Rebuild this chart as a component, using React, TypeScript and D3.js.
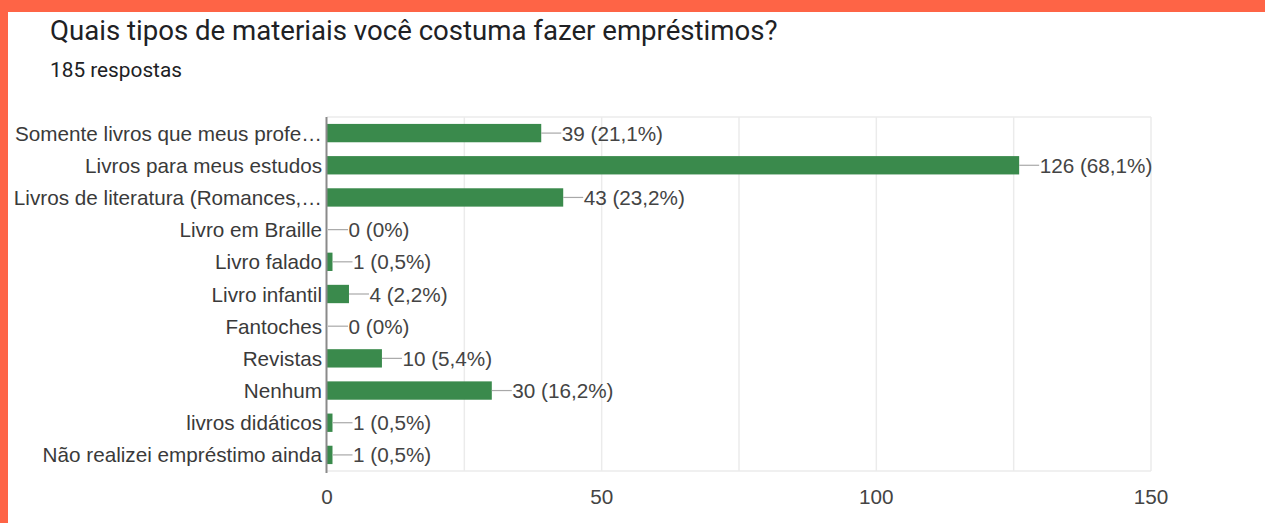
import * as d3 from "d3";

const categories = [
  "Somente livros que meus profe…",
  "Livros para meus estudos",
  "Livros de literatura (Romances,…",
  "Livro em Braille",
  "Livro falado",
  "Livro infantil",
  "Fantoches",
  "Revistas",
  "Nenhum",
  "livros didáticos",
  "Não realizei empréstimo ainda",
];
const counts = [39, 126, 43, 0, 1, 4, 0, 10, 30, 1, 1];
const percents = ["21,1%", "68,1%", "23,2%", "0%", "0,5%", "2,2%", "0%", "5,4%", "16,2%", "0,5%", "0,5%"];
const tickValues = [0, 50, 100, 150];
const gridValues = [25, 50, 75, 100, 125, 150];

const W = 1265;
const H = 523;
const plot = { left: 327, right: 1151, top: 117, bottom: 471 };
const labelFont = "'Liberation Sans', Arial, sans-serif";

function App() {
  const x = d3.scaleLinear().domain([0, 150]).range([plot.left, plot.right]);
  const y = d3.scaleBand().domain(categories).range([plot.top, plot.bottom]).paddingInner(0.43).paddingOuter(0.215);
  const bh = y.bandwidth();

  return (
    <svg width={W} height={H} style={{ position: "absolute", left: 0, top: 0, background: "#ffffff" }}>
      <rect x={0} y={0} width={W} height={12} fill="#fe6446" />
      <rect x={0} y={0} width={8} height={H} fill="#fe6446" />

      <text x={50} y={39.5} fontFamily="Roboto, sans-serif" fontSize={27.6} fill="#202124">
        Quais tipos de materiais você costuma fazer empréstimos?
      </text>
      <text x={50} y={76.5} fontFamily="Roboto, sans-serif" fontSize={20.8} fill="#202124">
        185 respostas
      </text>

      {/* grid + frame */}
      {gridValues.map((g) => (
        <line key={g} x1={x(g)} x2={x(g)} y1={plot.top} y2={plot.bottom} stroke="#ebebeb" strokeWidth={1.5} />
      ))}
      <line x1={plot.left} x2={plot.right} y1={plot.top} y2={plot.top} stroke="#ebebeb" strokeWidth={1.5} />
      <line x1={plot.left} x2={plot.right} y1={plot.bottom} y2={plot.bottom} stroke="#ebebeb" strokeWidth={1.5} />

      {categories.map((c, i) => {
        const cy = (y(c) ?? 0) + bh / 2;
        const end = x(counts[i]);
        const stem = Math.max(end, x(0) + 1);
        return (
          <g key={c}>
            <rect x={x(0)} y={y(c)} width={end - x(0)} height={bh} fill="#3a8a4c" />
            <line x1={stem} x2={stem + 20} y1={cy} y2={cy} stroke="#a8a8a8" strokeWidth={1.2} />
            <text x={stem + 20.5} y={cy} dominantBaseline="central" fontFamily={labelFont} fontSize={20.7} fill="#444">
              {`${counts[i]} (${percents[i]})`}
            </text>
            <text x={plot.left - 5} y={cy} textAnchor="end" dominantBaseline="central" fontFamily={labelFont} fontSize={20.7} fill="#3a3a3a">
              {c}
            </text>
          </g>
        );
      })}

      <line x1={x(0) - 0.5} x2={x(0) - 0.5} y1={plot.top} y2={plot.bottom + 2} stroke="#8a8a8a" strokeWidth={2} />

      {tickValues.map((t) => (
        <text key={t} x={x(t)} y={496} textAnchor="middle" dominantBaseline="central" fontFamily={labelFont} fontSize={20.7} fill="#444">
          {t}
        </text>
      ))}
    </svg>
  );
}

export default App;
